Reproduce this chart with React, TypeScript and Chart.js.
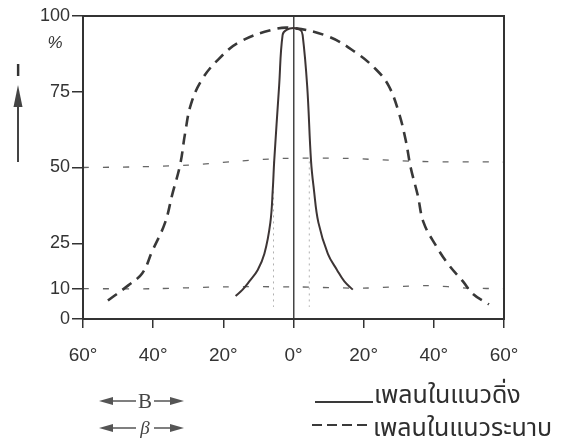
import React, { useEffect, useRef } from "react";
import { Chart, registerables } from "chart.js";

Chart.register(...registerables);

// Angle (degrees) and relative intensity (%) for the vertical-plane pattern (solid)
const verticalDeg = [-16.5, -14.5, -12.6, -10.2, -8.3, -6.6, -5.9, -5.5, -4.1, -3.1, -2, 0, 2, 2.6, 3.9, 5, 5.8, 7.1, 9.8, 12.4, 14.5, 16.9];
const verticalPct = [7.6, 9.7, 12.4, 16.2, 21.5, 31.8, 42.9, 52.1, 76.9, 93.8, 95.4, 96, 95.4, 93.8, 76.9, 52.1, 42.9, 31.8, 21.5, 16.2, 12.4, 9.7];

// Horizontal-plane pattern (long dashes)
const horizontalDeg = [-52.9, -47.1, -43.1, -40.3, -36.6, -34.6, -32.3, -30.9, -29.2, -26, -21.4, -15.7, -6, 0, 10, 17.7, 23.4, 27.1, 30, 32, 33.4, 35.4, 37.1, 40.6, 44.3, 48.3, 51.1, 55.7];
const horizontalPct = [6.1, 11.1, 15.1, 22.3, 31.8, 40.9, 51, 61.3, 71, 79.2, 85.7, 91.2, 95.5, 96, 93.2, 88, 82.5, 77, 68.2, 58.9, 50, 40.9, 31.8, 24.2, 17.8, 12.4, 8.3, 4.8];

// Reference levels (half-power and 10 %)
const halfLevelDeg = [-60, -45, -30, -17, -3, 15, 36, 60];
const halfLevelPct = [50, 50.2, 50.8, 52, 53, 53, 52, 51.8];
const tenLevelDeg = [-60, -40, -20, 0, 20, 38, 50, 60];
const tenLevelPct = [10, 10, 10.6, 10.6, 10.2, 11, 10.2, 10];

// Beam-width markers
const beamEdgeDeg = [-5.7, 4.5];
const beamEdgeTop = 52;
const beamEdgeBottom = 4;

// Axis ticks
const yTickValues = [0, 10, 25, 50, 75, 100];
const xTickValues = [-60, -40, -20, 0, 20, 40, 60];

const legendVertical = "เพลนในแนวดิ่ง";
const legendHorizontal = "เพลนในแนวระนาบ";

const toPoints = (xs: number[], ys: number[]) => xs.map((x, i) => ({ x, y: ys[i] }));

const INK = "#333333";
const SANS = '"Liberation Sans", Arial, sans-serif';
const THAI_FONT = '"Noto Sans Thai", "Noto Looped Thai", Loma, Garuda, "Tlwg Typo", "DejaVu Sans", sans-serif';

function arrowHead(ctx: CanvasRenderingContext2D, tipX: number, tipY: number, dx: number, dy: number, len: number, half: number) {
  // dx, dy: unit direction the arrow points to
  const bx = tipX - dx * len;
  const by = tipY - dy * len;
  ctx.beginPath();
  ctx.moveTo(tipX, tipY);
  ctx.lineTo(bx - dy * half, by + dx * half);
  ctx.lineTo(bx + dy * half, by - dx * half);
  ctx.closePath();
  ctx.fill();
}

const decorations = {
  id: "decorations",
  beforeDraw(chart: any) {
    const { ctx } = chart;
    ctx.save();
    ctx.fillStyle = "#ffffff";
    ctx.fillRect(0, 0, chart.width, chart.height);
    ctx.restore();
  },
  afterDraw(chart: any) {
    const { ctx, chartArea } = chart;
    ctx.save();
    // frame
    ctx.strokeStyle = INK;
    ctx.lineWidth = 2;
    ctx.strokeRect(chartArea.left, chartArea.top, chartArea.right - chartArea.left, chartArea.bottom - chartArea.top);

    // unit under the top tick label
    ctx.fillStyle = INK;
    ctx.font = "italic 17px " + SANS;
    ctx.textAlign = "center";
    ctx.textBaseline = "middle";
    ctx.fillText("%", 55, 43);

    // intensity arrow on the left
    ctx.font = "bold 17px " + SANS;
    ctx.fillText("I", 18, 71);
    ctx.strokeStyle = "#444";
    ctx.fillStyle = "#444";
    ctx.lineWidth = 2;
    ctx.beginPath();
    ctx.moveTo(18, 162);
    ctx.lineTo(18, 100);
    ctx.stroke();
    arrowHead(ctx, 18, 85, 0, -1, 22, 4.5);

    // width legend on the left
    ctx.lineWidth = 1.6;
    const rows = [
      { y: 401, label: "B", font: '21px "Liberation Serif", "DejaVu Serif", serif' },
      { y: 428, label: "β", font: 'italic 19px "Liberation Serif", "DejaVu Serif", serif' },
    ];
    for (const r of rows) {
      ctx.strokeStyle = "#555";
      ctx.fillStyle = "#555";
      ctx.beginPath();
      ctx.moveTo(106, r.y);
      ctx.lineTo(136, r.y);
      ctx.moveTo(154, r.y);
      ctx.lineTo(176, r.y);
      ctx.stroke();
      arrowHead(ctx, 99, r.y, -1, 0, 14, 4);
      arrowHead(ctx, 184, r.y, 1, 0, 14, 4);
      ctx.fillStyle = "#444";
      ctx.font = r.font;
      ctx.textAlign = "center";
      ctx.textBaseline = "middle";
      ctx.fillText(r.label, 145, r.y + 1);
    }

    // line-style legend on the right
    ctx.strokeStyle = "#3a3a3a";
    ctx.lineWidth = 2;
    ctx.beginPath();
    ctx.moveTo(315, 402);
    ctx.lineTo(373, 402);
    ctx.stroke();
    ctx.setLineDash([10, 5]);
    ctx.beginPath();
    ctx.moveTo(312, 425);
    ctx.lineTo(372, 425);
    ctx.stroke();
    ctx.setLineDash([]);

    ctx.fillStyle = "#2e2e2e";
    ctx.font = "25px " + THAI_FONT;
    ctx.textAlign = "left";
    ctx.textBaseline = "alphabetic";
    ctx.fillText(legendVertical, 374, 403);
    ctx.fillText(legendHorizontal, 373, 436);
    ctx.restore();
  },
};

export default function App() {
  const canvasRef = useRef<HTMLCanvasElement | null>(null);

  useEffect(() => {
    if (!canvasRef.current) return;
    const thin = {
      borderColor: "#666",
      borderWidth: 1.3,
      borderDash: [6, 14],
      pointRadius: 0,
      tension: 0.3,
      fill: false,
    };
    const datasets: any[] = [
      {
        label: "vertical plane",
        data: toPoints(verticalDeg, verticalPct),
        borderColor: "#3d3535",
        borderWidth: 2,
        pointRadius: 0,
        tension: 0.4,
        fill: false,
      },
      {
        label: "horizontal plane",
        data: toPoints(horizontalDeg, horizontalPct),
        borderColor: "#383838",
        borderWidth: 2.6,
        borderDash: [11, 7],
        pointRadius: 0,
        tension: 0.4,
        fill: false,
      },
      { label: "50 %", data: toPoints(halfLevelDeg, halfLevelPct), ...thin },
      { label: "10 %", data: toPoints(tenLevelDeg, tenLevelPct), ...thin },
      ...beamEdgeDeg.map((d) => ({
        label: "beam edge",
        data: [
          { x: d, y: beamEdgeTop },
          { x: d, y: beamEdgeBottom },
        ],
        borderColor: "#b0b0b0",
        borderWidth: 1,
        borderDash: [2, 4],
        pointRadius: 0,
        tension: 0,
        fill: false,
      })),
    ];

    const chart = new Chart(canvasRef.current, {
      type: "line",
      data: { datasets },
      options: {
        animation: false,
        responsive: false,
        layout: { padding: { top: 16, right: 75, left: 0, bottom: 0 } },
        plugins: { legend: { display: false }, tooltip: { enabled: false } },
        scales: {
          x: {
            type: "linear",
            min: -60,
            max: 60,
            afterFit: (s: any) => {
              s.height = 127;
            },
            afterBuildTicks: (s: any) => {
              s.ticks = xTickValues.map((v) => ({ value: v }));
            },
            grid: {
              drawOnChartArea: true,
              color: (c: any) => (c.tick && c.tick.value === 0 ? "#444" : "rgba(0,0,0,0)"),
              lineWidth: 1.5,
              tickColor: INK,
              tickLength: 9,
            },
            border: { display: true, color: INK, width: 2 },
            ticks: {
              color: INK,
              padding: 16,
              font: { family: SANS, size: 19 },
              callback: (v: any) => Math.abs(Number(v)) + "°",
              maxRotation: 0,
              autoSkip: false,
            },
          },
          y: {
            type: "linear",
            min: 0,
            max: 100,
            afterFit: (s: any) => {
              s.width = 83;
            },
            afterBuildTicks: (s: any) => {
              s.ticks = yTickValues.map((v) => ({ value: v }));
            },
            grid: {
              drawOnChartArea: false,
              tickColor: INK,
              tickLength: 11,
              lineWidth: 1.5,
            },
            border: { display: true, color: INK, width: 2 },
            ticks: {
              color: INK,
              padding: 2,
              font: { family: SANS, size: 18 },
              autoSkip: false,
            },
          },
        },
      },
      plugins: [decorations],
    } as any);

    return () => chart.destroy();
  }, []);

  return (
    <div style={{ position: "absolute", left: 0, top: 0, width: 579, height: 446 }}>
      <canvas ref={canvasRef} width={579} height={446} style={{ display: "block" }} />
    </div>
  );
}
